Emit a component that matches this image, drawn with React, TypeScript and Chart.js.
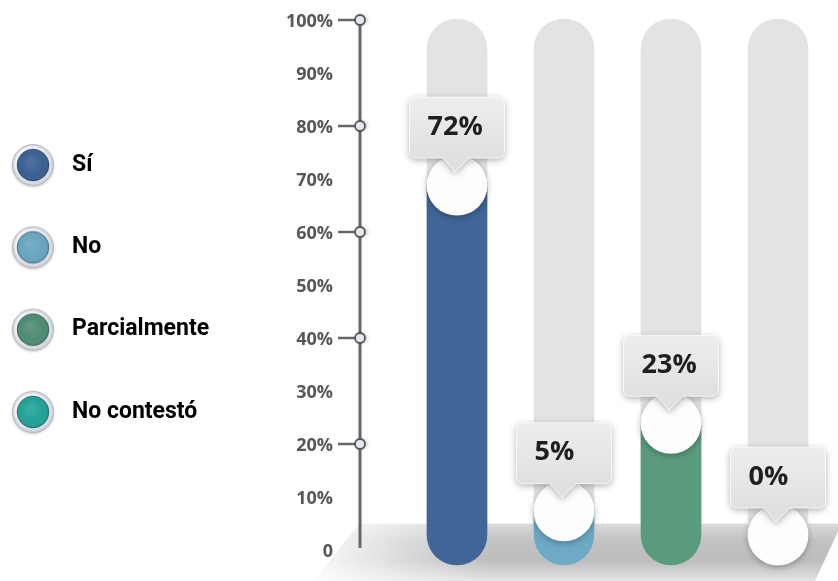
import React, { useEffect, useRef } from 'react';
import { Chart, registerables } from 'chart.js';

Chart.register(...registerables);

// ---- data ----
const CATEGORIES = ['Sí', 'No', 'Parcialmente', 'No contestó'];
const VALUES = [72, 5, 23, 0];
const VALUE_LABELS = ['72%', '5%', '23%', '0%'];
const TRACK = [100, 100, 100, 100];
const BAR_COLORS = ['#3f6697', '#6eaac5', '#5a9b7d', '#22a297'];
const LEGEND_COLORS = ['#395f91', '#68a4c0', '#4e8b72', '#1fa196'];
const Y_TICKS = [0, 10, 20, 30, 40, 50, 60, 70, 80, 90, 100];
const Y_TICK_LABELS = ['0', '10%', '20%', '30%', '40%', '50%', '60%', '70%', '80%', '90%', '100%'];
const MARKER_TICKS = [20, 40, 60, 80, 100];

// ---- layout ----
const W = 838;
const H = 581;
const LEG_FONT = 23;
const LEG_SPACING = 82.3;
const LEG_PAD = LEG_SPACING - LEG_FONT;
const DOT_CX = 33;
const TEXT_X = 72;
const LEG_BOX = 2 * (TEXT_X - DOT_CX - LEG_FONT / 2);
const PAD = { left: DOT_CX - LEG_BOX / 2 - LEG_PAD, top: 21, right: 6.5, bottom: 25 };
const PLOT_LEFT = 403.5;
const AXIS_GAP = 43.5;
const LABEL_RIGHT = 333;
const Y_MIN = -0.755;
const Y_MAX = 100.19;
const YB_MIN = -10.49;
const YB_MAX = 99.59;
const YB_BASE = -12.35;
const BAR_W = 60;
const CALL_W = 95;
const CALL_H = 61;
const CALL_GAP = 27;

function makeDot(color: string): HTMLCanvasElement {
  const c = document.createElement('canvas');
  c.width = 48;
  c.height = 48;
  const g = c.getContext('2d') as CanvasRenderingContext2D;
  const cx = 24, cy = 24;
  g.save();
  g.shadowColor = 'rgba(0,0,0,0.28)';
  g.shadowBlur = 3;
  g.shadowOffsetY = 1;
  const ring = g.createRadialGradient(cx - 5, cy - 6, 3, cx, cy, 21);
  ring.addColorStop(0, '#ffffff');
  ring.addColorStop(0.7, '#f3f5f8');
  ring.addColorStop(1, '#c5cad3');
  g.fillStyle = ring;
  g.beginPath();
  g.arc(cx, cy, 20.5, 0, Math.PI * 2);
  g.fill();
  g.restore();
  g.strokeStyle = '#b3b8c1';
  g.lineWidth = 1;
  g.beginPath();
  g.arc(cx, cy, 20.5, 0, Math.PI * 2);
  g.stroke();
  g.fillStyle = color;
  g.beginPath();
  g.arc(cx, cy, 16, 0, Math.PI * 2);
  g.fill();
  const hl = g.createRadialGradient(cx - 3, cy - 4, 1, cx, cy, 16);
  hl.addColorStop(0, 'rgba(255,255,255,0.12)');
  hl.addColorStop(0.75, 'rgba(255,255,255,0)');
  hl.addColorStop(1, 'rgba(0,0,0,0.18)');
  g.fillStyle = hl;
  g.beginPath();
  g.arc(cx, cy, 16, 0, Math.PI * 2);
  g.fill();
  g.strokeStyle = 'rgba(30,40,60,0.35)';
  g.lineWidth = 1;
  g.beginPath();
  g.arc(cx, cy, 16, 0, Math.PI * 2);
  g.stroke();
  return c;
}

function calloutPath(ctx: CanvasRenderingContext2D, left: number, top: number, w: number, h: number, r: number) {
  const bottom = top + h;
  const cx = left + w / 2;
  ctx.beginPath();
  ctx.moveTo(left + r, top);
  ctx.lineTo(left + w - r, top);
  ctx.quadraticCurveTo(left + w, top, left + w, top + r);
  ctx.lineTo(left + w, bottom - r);
  ctx.quadraticCurveTo(left + w, bottom, left + w - r, bottom);
  ctx.lineTo(cx + 12, bottom);
  ctx.lineTo(cx - 2, bottom + 14);
  ctx.lineTo(cx - 14, bottom);
  ctx.lineTo(left + r, bottom);
  ctx.quadraticCurveTo(left, bottom, left, bottom - r);
  ctx.lineTo(left, top + r);
  ctx.quadraticCurveTo(left, top, left + r, top);
  ctx.closePath();
}

const decorPlugin = {
  id: 'decor',
  beforeDatasetsDraw(chart: any) {
    const { ctx, chartArea } = chart;
    const axisX = chartArea.left - AXIS_GAP;
    const yScale = chart.scales.y;
    // floor
    const fTop = chartArea.bottom - 33;
    const fBot = chart.height;
    ctx.save();
    ctx.beginPath();
    ctx.moveTo(axisX, fTop);
    ctx.lineTo(chart.width + 4, fTop);
    ctx.lineTo(chart.width - 23, fBot);
    ctx.lineTo(axisX - 45, fBot);
    ctx.closePath();
    const vg = ctx.createLinearGradient(0, fTop, 0, fBot);
    vg.addColorStop(0, '#dcdcdc');
    vg.addColorStop(0.3, '#c2c2c2');
    vg.addColorStop(0.65, '#bdbdbd');
    vg.addColorStop(1, '#e4e4e4');
    ctx.fillStyle = vg;
    ctx.fill();
    const hg = ctx.createLinearGradient(axisX - 45, 0, axisX + 130, 0);
    hg.addColorStop(0, 'rgba(255,255,255,0.9)');
    hg.addColorStop(1, 'rgba(255,255,255,0)');
    ctx.fillStyle = hg;
    ctx.fill();
    ctx.strokeStyle = 'rgba(255,255,255,0.9)';
    ctx.lineWidth = 1.5;
    ctx.beginPath();
    ctx.moveTo(axisX, fTop);
    ctx.lineTo(chart.width + 4, fTop);
    ctx.stroke();
    ctx.restore();

    // axis line
    ctx.save();
    ctx.strokeStyle = '#676767';
    ctx.lineWidth = 3;
    ctx.beginPath();
    ctx.moveTo(axisX, yScale.getPixelForValue(100) - 2);
    ctx.lineTo(axisX, yScale.getPixelForValue(0) - 4);
    ctx.stroke();
    MARKER_TICKS.forEach((v) => {
      const py = yScale.getPixelForValue(v) - 2;
      ctx.strokeStyle = '#676767';
      ctx.lineWidth = 2.5;
      ctx.beginPath();
      ctx.moveTo(axisX - 22, py);
      ctx.lineTo(axisX, py);
      ctx.stroke();
      ctx.save();
      ctx.shadowColor = 'rgba(0,0,0,0.25)';
      ctx.shadowBlur = 4;
      ctx.shadowOffsetX = 2;
      ctx.fillStyle = '#e3e8ef';
      ctx.beginPath();
      ctx.arc(axisX, py, 5, 0, Math.PI * 2);
      ctx.fill();
      ctx.restore();
      ctx.strokeStyle = '#555';
      ctx.lineWidth = 1.8;
      ctx.beginPath();
      ctx.arc(axisX, py, 5, 0, Math.PI * 2);
      ctx.stroke();
    });
    ctx.restore();
  },
  afterDatasetsDraw(chart: any) {
    const { ctx } = chart;
    const meta = chart.getDatasetMeta(0);
    const pts = meta.data.map((bar: any) => {
      const p = bar.getProps(['x', 'y'], true);
      return { x: p.x, cy: p.y + BAR_W / 2 };
    });
    // white circles
    pts.forEach((p: any) => {
      ctx.save();
      ctx.shadowColor = 'rgba(0,0,0,0.28)';
      ctx.shadowBlur = 6;
      ctx.shadowOffsetY = 2;
      ctx.fillStyle = '#fdfdfd';
      ctx.beginPath();
      ctx.arc(p.x, p.cy, BAR_W / 2 + 0.5, 0, Math.PI * 2);
      ctx.fill();
      ctx.restore();
    });
    // callouts
    pts.forEach((p: any, i: number) => {
      const bottom = p.cy - CALL_GAP;
      const top = bottom - CALL_H;
      const left = p.x - CALL_W / 2;
      ctx.save();
      ctx.shadowColor = 'rgba(0,0,0,0.32)';
      ctx.shadowBlur = 7;
      ctx.shadowOffsetY = 2;
      calloutPath(ctx, left, top, CALL_W, CALL_H, 7);
      const g = ctx.createLinearGradient(0, top, 0, bottom);
      g.addColorStop(0, '#eeeeee');
      g.addColorStop(1, '#e0e0e0');
      ctx.fillStyle = g;
      ctx.fill();
      ctx.restore();
      ctx.save();
      calloutPath(ctx, left, top, CALL_W, CALL_H, 7);
      ctx.strokeStyle = 'rgba(255,255,255,0.8)';
      ctx.lineWidth = 1;
      ctx.stroke();
      ctx.fillStyle = '#1f1f1f';
      ctx.font = 'bold 27px "Open Sans", sans-serif';
      ctx.textAlign = 'left';
      ctx.textBaseline = 'middle';
      ctx.fillText(VALUE_LABELS[i], left + 18, top + 30);
      ctx.restore();
    });
  },
};

export default function App() {
  const ref = useRef<HTMLCanvasElement | null>(null);
  useEffect(() => {
    if (!ref.current) return;
    const dots = LEGEND_COLORS.map(makeDot);
    const chart = new Chart(ref.current, {
      type: 'bar',
      data: {
        labels: CATEGORIES,
        datasets: [
          {
            label: 'Respuestas',
            data: VALUES,
            backgroundColor: BAR_COLORS,
            yAxisID: 'yb',
            base: YB_BASE,
            grouped: false,
            barThickness: BAR_W,
            borderRadius: BAR_W / 2,
            borderSkipped: false,
            clip: false,
            order: 0,
          } as any,
          {
            label: 'Total',
            data: TRACK,
            backgroundColor: '#e3e3e3',
            yAxisID: 'yb',
            base: YB_BASE,
            grouped: false,
            barThickness: BAR_W,
            borderRadius: BAR_W / 2,
            borderSkipped: false,
            clip: false,
            order: 1,
          } as any,
        ],
      },
      options: {
        responsive: false,
        animation: false,
        events: [],
        layout: { padding: PAD },
        scales: {
          x: { type: 'category', display: false, offset: true },
          y: {
            type: 'linear',
            position: 'left',
            min: Y_MIN,
            max: Y_MAX,
            afterBuildTicks: (scale: any) => {
              scale.ticks = Y_TICKS.map((v) => ({ value: v }));
            },
            afterFit: (scale: any) => {
              const lw = scale.chart.legend ? scale.chart.legend.width : 0;
              scale.width = PLOT_LEFT - PAD.left - lw;
              scale.paddingTop = 0;
              scale.paddingBottom = 0;
              scale.paddingLeft = 0;
              scale.paddingRight = 0;
            },
            grid: { display: false, drawTicks: false },
            border: { display: false },
            ticks: {
              padding: PLOT_LEFT - LABEL_RIGHT,
              color: '#575757',
              font: { family: '"Open Sans", sans-serif', size: 18, weight: 'bold' },
              callback: (v: any) => {
                const idx = Y_TICKS.indexOf(Number(v));
                return idx >= 0 ? Y_TICK_LABELS[idx] : '';
              },
            },
          },
          yb: {
            type: 'linear',
            display: false,
            min: YB_MIN,
            max: YB_MAX,
          },
        },
        plugins: {
          tooltip: { enabled: false },
          legend: {
            position: 'left',
            align: 'center',
            maxWidth: 600,
            labels: {
              usePointStyle: true,
              pointStyleWidth: LEG_BOX,
              padding: LEG_PAD,
              color: '#444444',
              font: { family: 'Roboto, "Liberation Sans", sans-serif', size: LEG_FONT, weight: 'bold' },
              generateLabels: () =>
                CATEGORIES.map((c, i) => ({
                  text: c,
                  fillStyle: LEGEND_COLORS[i],
                  strokeStyle: LEGEND_COLORS[i],
                  lineWidth: 0,
                  pointStyle: dots[i],
                  hidden: false,
                  index: i,
                  datasetIndex: 0,
                })) as any,
            },
          },
        },
      } as any,
      plugins: [decorPlugin],
    });
    return () => chart.destroy();
  }, []);
  return (
    <div style={{ position: 'fixed', left: 0, top: 0, width: W, height: H, background: '#ffffff' }}>
      <canvas ref={ref} width={W} height={H} style={{ display: 'block', width: W, height: H }} />
    </div>
  );
}
